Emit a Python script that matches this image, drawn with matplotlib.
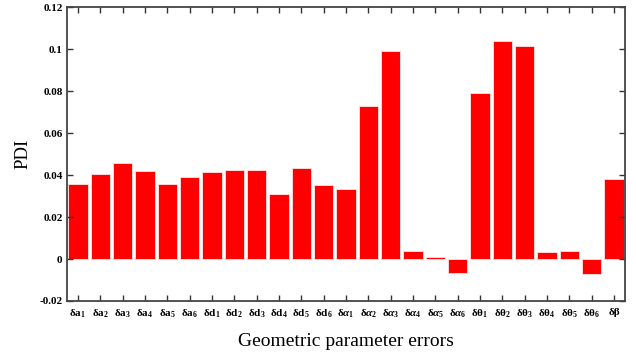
import matplotlib
matplotlib.use("Agg")
import matplotlib.pyplot as plt
from matplotlib.ticker import FuncFormatter

plt.rcParams['mathtext.fontset'] = 'custom'
plt.rcParams['mathtext.rm'] = 'Liberation Serif:bold'
plt.rcParams['mathtext.it'] = 'Liberation Serif:bold:italic'
plt.rcParams['mathtext.bf'] = 'Liberation Serif:bold'

categories = [
    r'δa$_{1}$', r'δa$_{2}$', r'δa$_{3}$', r'δa$_{4}$', r'δa$_{5}$', r'δa$_{6}$',
    r'δd$_{1}$', r'δd$_{2}$', r'δd$_{3}$', r'δd$_{4}$', r'δd$_{5}$', r'δd$_{6}$',
    r'δ$\it{α}_{1}$', r'δ$\it{α}_{2}$', r'δ$\it{α}_{3}$', r'δ$\it{α}_{4}$', r'δ$\it{α}_{5}$', r'δ$\it{α}_{6}$',
    r'δθ$_{1}$', r'δθ$_{2}$', r'δθ$_{3}$', r'δθ$_{4}$', r'δθ$_{5}$', r'δθ$_{6}$',
    'δβ',
]
pdi = [0.0357, 0.0405, 0.0456, 0.0420, 0.0357, 0.0390,
       0.0413, 0.0422, 0.0424, 0.0309, 0.0434, 0.0354,
       0.0335, 0.0728, 0.0991, 0.0038, 0.0011, -0.0068,
       0.0790, 0.1037, 0.1017, 0.0032, 0.0038, -0.0070,
       0.0379]
yticks = [-0.02, 0, 0.02, 0.04, 0.06, 0.08, 0.1, 0.12]

fig = plt.figure(figsize=(6.36, 3.56), dpi=100)
ax = fig.add_axes([0.105, 0.1545, 0.878, 0.8255])
x = list(range(len(categories)))
ax.bar(x, pdi, width=0.86, color='#ff0000', edgecolor='#ffd6d6', linewidth=0.7)
ax.set_xlim(-0.5, len(categories) - 0.5)
ax.set_ylim(-0.02, 0.12)
ax.set_yticks(yticks)
ax.yaxis.set_major_formatter(FuncFormatter(lambda v, p: '%g' % round(v, 4)))
ax.set_xticks(x)
ax.set_xticklabels(categories, fontsize=8, fontfamily='Liberation Serif', fontweight='bold')
for lab in ax.get_yticklabels():
    lab.set_fontfamily('Liberation Serif')
    lab.set_fontweight('bold')
    lab.set_fontsize(8)
ax.tick_params(axis='both', direction='in', length=4, width=1.0, color='#333333',
               top=True, right=True, pad=3)
ax.tick_params(axis='x', pad=5)
for s in ax.spines.values():
    s.set_linewidth(1.3)
    s.set_color('#444444')
ax.set_ylabel('PDI', fontfamily='Liberation Serif', fontsize=13.5, labelpad=6)
ax.set_xlabel('Geometric parameter errors', fontfamily='Liberation Serif', fontsize=14, labelpad=9)
fig.savefig('out.png', dpi=100)
